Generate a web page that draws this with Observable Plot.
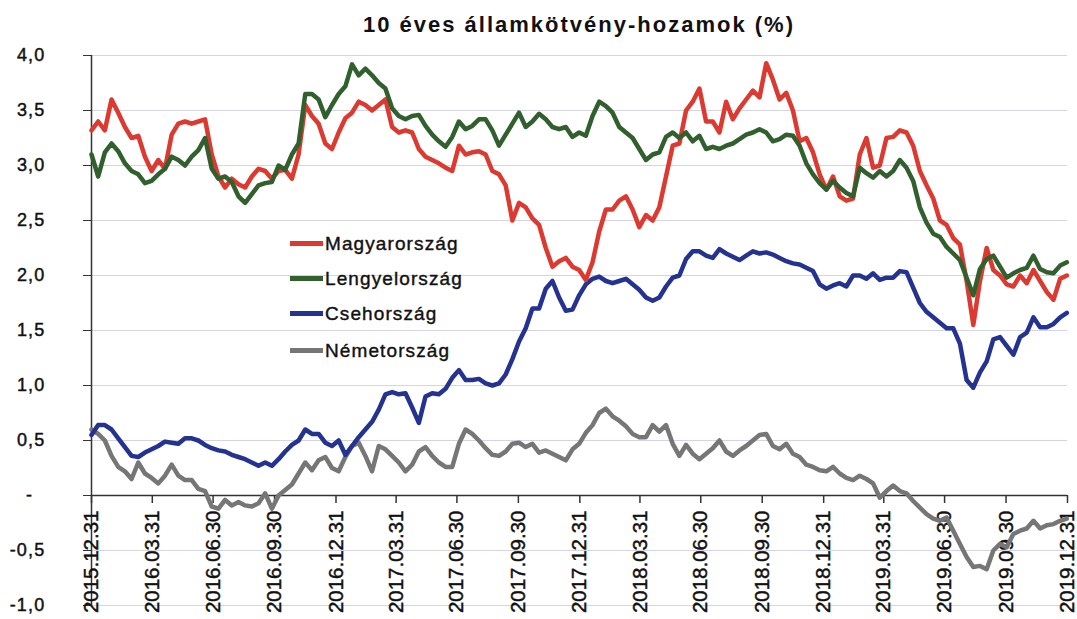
<!DOCTYPE html>
<html>
<head>
<meta charset="utf-8">
<script src="https://cdn.jsdelivr.net/npm/d3@7"></script>
<script src="https://cdn.jsdelivr.net/npm/@observablehq/plot@0.6"></script>
<style>
html, body { margin: 0; padding: 0; background: #fff; }
#wrap { position: relative; width: 1077px; height: 619px; overflow: hidden; font-family: "Liberation Sans", Arial, sans-serif; color: #111; }
#title { position: absolute; left: 91px; width: 976px; top: 14px; text-align: center; font-weight: bold; font-size: 22px; line-height: 22px; letter-spacing: 2px; color: #111; }
#chart { position: absolute; left: 0; top: 40px; }
.row { position: absolute; left: 290px; height: 20px; display: flex; align-items: center; white-space: nowrap; font-size: 19px; line-height: 19px; letter-spacing: 1.1px; -webkit-text-stroke: 0.4px #111; }
.sw { width: 33px; height: 5px; margin-right: 2px; }
#chart svg text { stroke: #111; stroke-width: 0.45px; }
#chart svg [aria-label="y-axis tick label"] { letter-spacing: 1.2px; }
</style>
</head>
<body>
<div id="wrap">
  <div id="title">10 éves államkötvény-hozamok (%)</div>
  <div id="chart"></div>
  <div id="legend"></div>
</div>
<script>
// x grid: one observation every 10 days starting 2015-12-31
const startDate = "2015-12-31";
const endDate = "2019-12-31";
const stepDays = 10;

const quarterEnds = ["2015-12-31","2016-03-31","2016-06-30","2016-09-30","2016-12-31",
  "2017-03-31","2017-06-30","2017-09-30","2017-12-31","2018-03-31","2018-06-30",
  "2018-09-30","2018-12-31","2019-03-31","2019-06-30","2019-09-30","2019-12-31"];

const yTicks = [-1, -0.5, 0, 0.5, 1, 1.5, 2, 2.5, 3, 3.5, 4];

const seriesNames = ["Magyarország", "Lengyelország", "Csehország", "Németország"];
const seriesColors = ["#dc3a30", "#31602e", "#23338f", "#767676"];

const magyarorszag = [
  3.32, 3.40, 3.32, 3.60, 3.48, 3.35, 3.25, 3.27, 3.08, 2.95,
  3.05, 2.97, 3.28, 3.38, 3.40, 3.38, 3.40, 3.42, 3.10, 2.90,
  2.80, 2.88, 2.83, 2.80, 2.90, 2.97, 2.95, 2.88, 2.95, 2.96,
  2.88, 3.10, 3.55, 3.45, 3.38, 3.20, 3.15, 3.30, 3.43, 3.48,
  3.58, 3.55, 3.50, 3.55, 3.60, 3.35, 3.30, 3.32, 3.30, 3.15,
  3.08, 3.05, 3.02, 2.98, 2.95, 3.18, 3.10, 3.12, 3.13, 3.10,
  2.95, 2.92, 2.82, 2.50, 2.66, 2.62, 2.52, 2.46, 2.25, 2.08,
  2.13, 2.16, 2.08, 2.05, 1.96, 2.12, 2.40, 2.60, 2.60, 2.68,
  2.72, 2.60, 2.44, 2.55, 2.50, 2.62, 2.90, 3.18, 3.20, 3.50,
  3.58, 3.70, 3.40, 3.40, 3.30, 3.58, 3.42, 3.52, 3.60, 3.68,
  3.62, 3.93, 3.78, 3.60, 3.66, 3.50, 3.22, 3.25, 3.12, 2.92,
  2.78, 2.90, 2.72, 2.68, 2.70, 3.10, 3.25, 2.98, 3.00, 3.25,
  3.26, 3.32, 3.30, 3.18, 2.95, 2.82, 2.70, 2.50, 2.46, 2.34,
  2.28, 1.95, 1.55, 1.95, 2.25, 2.05, 2.00, 1.92, 1.90, 2.00,
  1.93, 2.05, 1.95, 1.85, 1.78, 1.97, 2.00
];

const lengyelorszag = [
  3.10, 2.90, 3.12, 3.20, 3.13, 3.02, 2.95, 2.92, 2.84, 2.86,
  2.92, 2.97, 3.08, 3.05, 3.00, 3.08, 3.14, 3.25, 2.97, 2.88,
  2.90, 2.85, 2.72, 2.66, 2.74, 2.82, 2.84, 2.85, 3.00, 2.96,
  3.10, 3.20, 3.65, 3.65, 3.60, 3.44, 3.55, 3.65, 3.72, 3.92,
  3.82, 3.88, 3.82, 3.75, 3.70, 3.52, 3.45, 3.42, 3.45, 3.46,
  3.36, 3.28, 3.22, 3.17, 3.26, 3.40, 3.33, 3.36, 3.42, 3.42,
  3.32, 3.18, 3.28, 3.38, 3.48, 3.35, 3.40, 3.47, 3.42, 3.35,
  3.33, 3.35, 3.26, 3.30, 3.27, 3.45, 3.58, 3.54, 3.48, 3.35,
  3.30, 3.25, 3.15, 3.05, 3.10, 3.12, 3.26, 3.30, 3.25, 3.30,
  3.22, 3.27, 3.15, 3.17, 3.15, 3.18, 3.20, 3.24, 3.28, 3.30,
  3.33, 3.30, 3.22, 3.24, 3.28, 3.27, 3.18, 3.02, 2.92, 2.84,
  2.78, 2.86, 2.80, 2.75, 2.72, 2.98, 2.93, 2.89, 2.95, 2.90,
  2.95, 3.05, 2.98, 2.86, 2.62, 2.48, 2.38, 2.35, 2.26, 2.20,
  2.14, 1.98, 1.82, 2.06, 2.15, 2.18, 2.08, 1.98, 2.02, 2.05,
  2.07, 2.18, 2.06, 2.03, 2.02, 2.09, 2.12
];

const csehorszag = [
  0.55, 0.64, 0.64, 0.60, 0.52, 0.44, 0.36, 0.35, 0.39, 0.42,
  0.45, 0.49, 0.48, 0.47, 0.52, 0.52, 0.50, 0.46, 0.43, 0.41,
  0.40, 0.37, 0.35, 0.33, 0.30, 0.27, 0.30, 0.27, 0.33, 0.40,
  0.46, 0.50, 0.60, 0.56, 0.56, 0.48, 0.45, 0.50, 0.37, 0.45,
  0.53, 0.60, 0.67, 0.78, 0.92, 0.94, 0.92, 0.93, 0.80, 0.66,
  0.90, 0.93, 0.92, 0.97, 1.07, 1.14, 1.05, 1.05, 1.06, 1.02,
  1.00, 1.02, 1.10, 1.24, 1.40, 1.52, 1.70, 1.70, 1.88, 1.95,
  1.80, 1.68, 1.69, 1.82, 1.92, 1.97, 1.99, 1.95, 1.93, 1.95,
  1.97, 1.92, 1.87, 1.80, 1.77, 1.80, 1.90, 1.98, 2.00, 2.15,
  2.22, 2.22, 2.18, 2.16, 2.24, 2.20, 2.17, 2.14, 2.18, 2.22,
  2.20, 2.21, 2.19, 2.16, 2.13, 2.11, 2.10, 2.07, 2.04, 1.92,
  1.88, 1.91, 1.93, 1.90, 2.00, 2.00, 1.97, 2.02, 1.96, 1.98,
  1.98, 2.04, 2.03, 1.89, 1.75, 1.67, 1.62, 1.57, 1.52, 1.52,
  1.38, 1.05, 0.98, 1.12, 1.22, 1.42, 1.44, 1.36, 1.28, 1.44,
  1.48, 1.62, 1.53, 1.53, 1.56, 1.62, 1.66
];

const nemetorszag = [
  0.60, 0.56, 0.50, 0.36, 0.26, 0.22, 0.15, 0.30, 0.20, 0.16,
  0.11, 0.18, 0.28, 0.18, 0.14, 0.14, 0.06, 0.04, -0.10, -0.12,
  -0.04, -0.09, -0.06, -0.09, -0.10, -0.07, 0.02, -0.12, 0.00, 0.05,
  0.10, 0.20, 0.30, 0.23, 0.32, 0.35, 0.25, 0.22, 0.35, 0.45,
  0.48, 0.36, 0.22, 0.45, 0.42, 0.36, 0.30, 0.22, 0.28, 0.40,
  0.44, 0.36, 0.30, 0.26, 0.26, 0.47, 0.60, 0.56, 0.50, 0.43,
  0.37, 0.36, 0.40, 0.47, 0.48, 0.44, 0.47, 0.39, 0.41, 0.38,
  0.35, 0.32, 0.42, 0.47, 0.57, 0.64, 0.75, 0.79, 0.72, 0.68,
  0.63, 0.56, 0.53, 0.53, 0.64, 0.58, 0.64, 0.47, 0.36, 0.46,
  0.38, 0.33, 0.38, 0.43, 0.50, 0.40, 0.36, 0.41, 0.45, 0.50,
  0.55, 0.56, 0.45, 0.42, 0.47, 0.38, 0.35, 0.28, 0.26, 0.23,
  0.22, 0.26, 0.20, 0.16, 0.14, 0.18, 0.15, 0.11, -0.02, 0.04,
  0.09, 0.04, 0.02, -0.05, -0.11, -0.17, -0.21, -0.23, -0.20, -0.32,
  -0.44, -0.56, -0.65, -0.64, -0.67, -0.50, -0.44, -0.47, -0.35, -0.32,
  -0.30, -0.23, -0.30, -0.27, -0.26, -0.23, -0.21
];

const seriesValues = [magyarorszag, lengyelorszag, csehorszag, nemetorszag];

const start = new Date(startDate);
const dates = magyarorszag.map((_, i) => d3.utcDay.offset(start, stepDays * i));
const quarterDates = quarterEnds.map(s => new Date(s));

const table = seriesNames.map((name, k) =>
  seriesValues[k].map((v, i) => ({date: dates[i], value: v, name}))
);

const fmtDate = d3.utcFormat("%Y.%m.%d");
const fmtY = d => d === 0 ? "-\u00a0\u00a0" : d3.format(".1f")(d).replace(".", ",").replace("\u2212", "-");

// draw order: grey, blue, red, green
const drawOrder = [3, 2, 0, 1];

const chart = Plot.plot({
  width: 1077,
  height: 579,
  marginTop: 15,
  marginBottom: 14,
  marginLeft: 91,
  marginRight: 10,
  style: {fontFamily: "'Liberation Sans', Arial, sans-serif", fontSize: "18px", color: "#111", background: "white", overflow: "visible"},
  x: {type: "utc", domain: [new Date(startDate), new Date(endDate)], axis: null},
  y: {domain: [-1, 4], label: null},
  marks: [
    Plot.gridY(yTicks.filter(d => d !== 0), {stroke: "#d4d4e4", strokeOpacity: 1, strokeWidth: 1}),
    Plot.axisY(yTicks, {tickSize: 8, tickPadding: 38, tickFormat: fmtY, fontSize: 18, stroke: "#333", fill: "#111", label: null}),
    Plot.ruleX([new Date(startDate)], {stroke: "#333", strokeWidth: 1.5}),
    Plot.ruleY([0], {stroke: "#333", strokeWidth: 1.5}),
    Plot.ruleX(quarterDates, {x: d => d, y1: 0, y2: 0, insetBottom: -8, stroke: "#333", strokeWidth: 1.5}),
    Plot.text(quarterDates, {x: d => d, y: 0, text: d => fmtDate(d), rotate: -90, textAnchor: "end", dy: 15, fontSize: 20.5, fill: "#111"}),
    ...drawOrder.map(k => Plot.line(table[k], {x: "date", y: "value", stroke: seriesColors[k], strokeWidth: 4.5, strokeLinejoin: "round", strokeLinecap: "round"}))
  ]
});
document.getElementById("chart").appendChild(chart);

// legend overlay inside the plot area
const legendTops = [233, 268, 303, 340];
const legend = document.getElementById("legend");
seriesNames.forEach((name, k) => {
  const row = document.createElement("div");
  row.className = "row";
  row.style.top = legendTops[k] + "px";
  const sw = document.createElement("span");
  sw.className = "sw";
  sw.style.background = seriesColors[k];
  const label = document.createElement("span");
  label.textContent = name;
  row.appendChild(sw);
  row.appendChild(label);
  legend.appendChild(row);
});
</script>
</body>
</html>
